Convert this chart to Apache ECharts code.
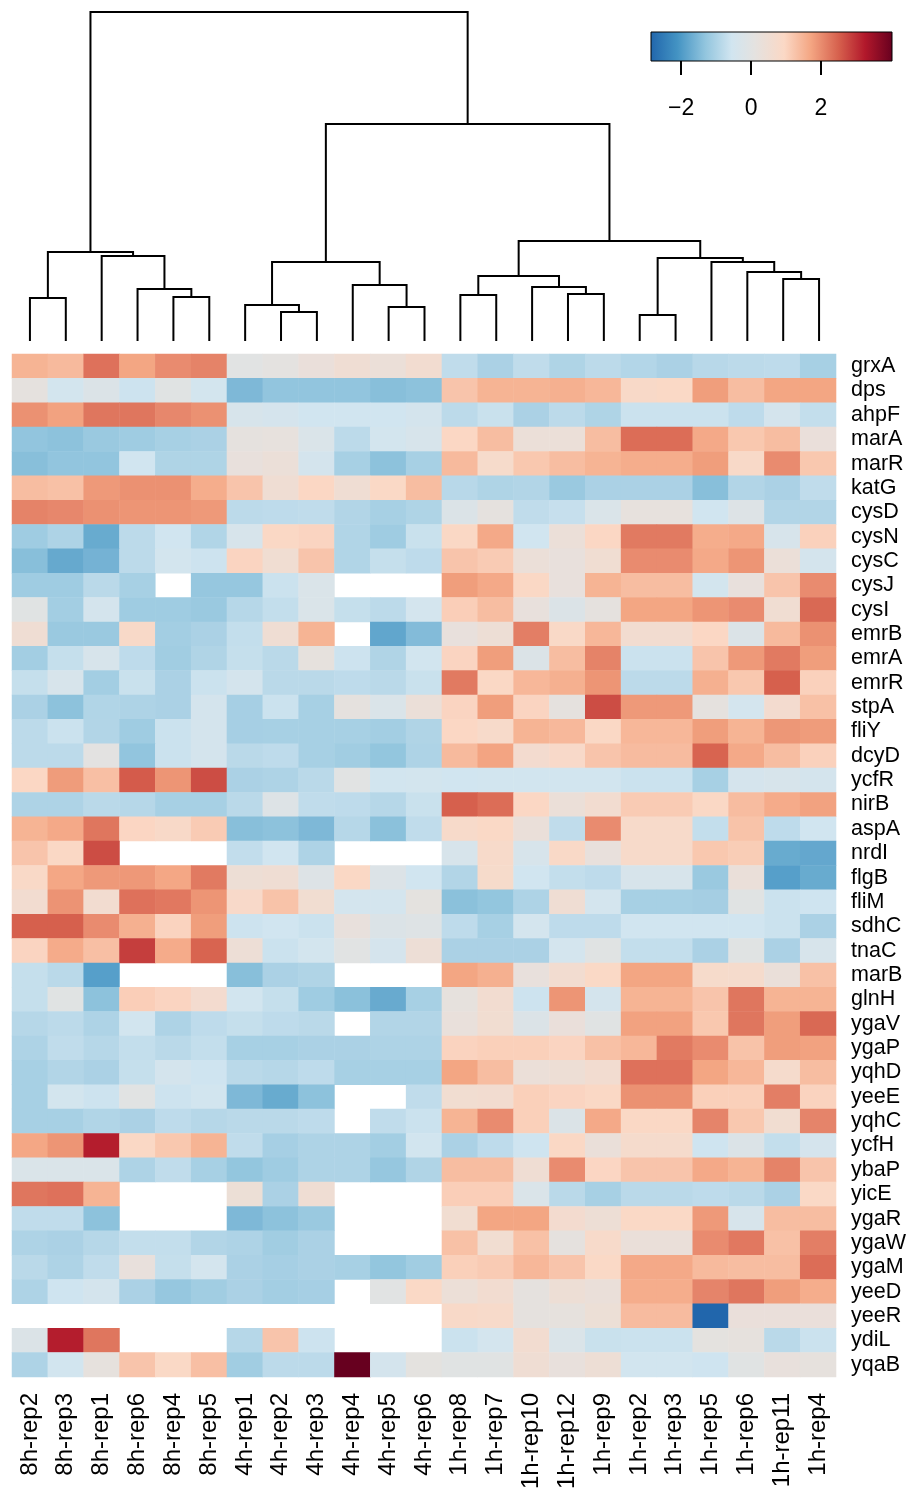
<!DOCTYPE html>
<html>
<head>
<meta charset="utf-8">
<script src="https://cdn.jsdelivr.net/npm/echarts@6/dist/echarts.min.js"></script>
<style>
  html, body { margin: 0; padding: 0; background: #fff; }
  #chart { width: 909px; height: 1492px; }
</style>
</head>
<body>
<div id="chart"></div>
<script>
// ---------------- DATA ----------------
const columns = ['8h-rep2','8h-rep3','8h-rep1','8h-rep6','8h-rep4','8h-rep5',
  '4h-rep1','4h-rep2','4h-rep3','4h-rep4','4h-rep5','4h-rep6',
  '1h-rep8','1h-rep7','1h-rep10','1h-rep12','1h-rep9','1h-rep2','1h-rep3','1h-rep5','1h-rep6','1h-rep11','1h-rep4'];

const genes = ['grxA','dps','ahpF','marA','marR','katG','cysD','cysN','cysC','cysJ','cysI','emrB','emrA','emrR',
  'stpA','fliY','dcyD','ycfR','nirB','aspA','nrdI','flgB','fliM','sdhC','tnaC','marB','glnH','ygaV','ygaP','yqhD',
  'yeeE','yqhC','ycfH','ybaP','yicE','ygaR','ygaW','ygaM','yeeD','yeeR','ydiL','yqaB'];

// values per gene, in column order (null = missing)
const grxA = [1.5,1.4,2.3,1.7,2.0,2.1, 0.0,0.1,0.3,0.5,0.35,0.6, -0.75,-1.0,-0.75,-0.95,-0.8,-0.9,-1.0,-0.85,-0.8,-0.78,-1.05];
const dps  = [0.15,-0.5,-0.2,-0.6,-0.05,-0.5, -1.5,-1.3,-1.3,-1.3,-1.4,-1.35, 1.25,1.5,1.5,1.55,1.45,0.85,0.9,1.8,1.35,1.7,1.7];
const ahpF = [1.95,1.75,2.25,2.25,2.05,1.95, -0.35,-0.4,-0.55,-0.55,-0.55,-0.45, -0.8,-0.65,-1.0,-0.8,-0.95,-0.62,-0.62,-0.62,-0.78,-0.45,-0.72];
const marA = [-1.3,-1.35,-1.2,-1.15,-1.05,-1.0, 0.15,0.2,-0.25,-0.8,-0.5,-0.35, 0.95,1.35,0.35,0.35,1.35,2.35,2.35,1.65,1.2,1.35,0.3];
const marR = [-1.4,-1.3,-1.3,-0.55,-0.95,-0.95, 0.25,0.35,-0.45,-1.05,-1.35,-1.05, 1.4,0.75,1.2,1.35,1.5,1.6,1.6,1.8,0.85,2.0,1.2];
const katG = [1.35,1.3,1.85,1.95,1.95,1.6, 1.25,0.5,0.95,0.5,0.9,1.35, -0.85,-0.95,-0.92,-1.2,-1.0,-1.0,-1.0,-1.4,-0.92,-1.0,-0.75];
const cysD = [2.1,2.05,1.95,1.9,1.9,1.85, -0.8,-0.78,-0.75,-0.92,-1.05,-0.95, -0.2,0.15,-0.75,-0.68,-0.25,0.2,0.2,-0.55,-0.15,-0.92,-0.92];
const cysN = [-1.15,-0.97,-1.72,-0.8,-0.55,-0.93, -0.35,0.92,1.0,-0.93,-1.15,-0.65, 0.92,1.65,-0.55,0.35,0.95,2.2,2.2,1.6,1.65,-0.35,1.05];
const cysC = [-1.4,-1.75,-1.6,-0.8,-0.5,-0.6, 1.0,0.55,1.25,-0.93,-0.7,-0.78, 1.25,1.15,0.35,0.25,0.55,2.0,2.0,1.65,1.9,0.35,-0.45];
const cysJ = [-1.15,-1.15,-0.82,-1.05,null,-1.25, -1.25,-0.62,-0.25,null,null,null, 1.8,1.65,0.92,0.25,1.5,1.35,1.35,-0.5,0.25,1.25,2.0];
const cysI = [-0.05,-1.1,-0.45,-1.15,-1.15,-1.2, -0.87,-0.72,-0.25,-0.7,-0.8,-0.47, 1.1,1.35,0.25,-0.2,0.15,1.7,1.7,1.9,2.0,0.55,2.4];
const emrB = [0.5,-1.2,-1.2,0.85,-1.1,-1.0, -0.72,0.5,1.5,null,-1.8,-1.45, 0.25,0.45,2.15,0.88,1.45,0.6,0.6,0.95,-0.2,1.4,1.95];
const emrA = [-1.1,-0.7,-0.35,-0.77,-1.12,-0.94, -0.7,-0.82,0.18,-0.6,-0.94,-0.52, 1.0,1.8,-0.2,1.35,2.1,-0.62,-0.62,1.25,1.85,2.2,1.8];
const emrR = [-0.7,-0.35,-1.1,-0.65,-1.0,-0.62, -0.45,-0.82,-0.82,-0.77,-0.82,-0.65, 2.2,0.93,1.45,1.55,1.9,-0.8,-0.8,1.55,1.2,2.5,1.05];
const stpA = [-1.0,-1.35,-0.93,-0.96,-1.0,-0.45, -1.07,-0.62,-1.05,0.15,-0.25,0.35, 1.0,1.8,1.0,0.15,2.7,1.85,1.85,0.15,-0.47,0.65,1.3];
const fliY = [-0.8,-0.62,-0.92,-1.15,-0.62,-0.45, -1.07,-1.05,-1.05,-1.05,-1.1,-0.94, 0.95,0.8,1.5,1.42,0.92,1.45,1.45,1.8,1.5,1.88,1.82];
const dcyD = [-0.8,-0.8,0.05,-1.3,-0.62,-0.45, -0.82,-0.77,-1.05,-1.12,-1.28,-0.96, 1.4,1.72,0.65,0.82,1.25,1.38,1.38,2.45,1.65,1.35,1.05];
const ycfR = [0.95,1.82,1.32,2.55,1.9,2.7, -1.0,-0.96,-0.82,0.0,-0.52,-0.48, -0.55,-0.52,-0.52,-0.52,-0.52,-0.62,-0.62,-1.05,-0.4,-0.35,-0.45];
const nirB = [-0.96,-0.96,-0.82,-0.87,-1.05,-1.05, -0.82,-0.15,-0.75,-0.78,-0.87,-0.65, 2.5,2.35,0.95,0.35,0.62,1.15,1.15,0.93,1.37,1.62,1.75];
const aspA = [1.5,1.65,2.25,0.97,0.85,1.15, -1.4,-1.35,-1.5,-0.87,-1.37,-0.75, 0.8,0.9,0.32,-0.75,2.0,0.8,0.8,-0.72,1.27,-0.77,-0.55];
const nrdI = [1.25,0.92,2.7,null,null,null, -0.73,-0.55,-0.96,null,null,null, -0.35,0.78,-0.35,0.88,0.25,0.8,0.8,1.2,1.12,-1.72,-1.77];
const flgB = [0.88,1.68,1.85,1.86,1.68,2.2, 0.45,0.5,-0.15,0.92,-0.18,-0.55, -0.92,0.75,-0.55,-0.72,-0.77,-0.35,-0.35,-1.2,0.32,-1.9,-1.72];
const fliM = [0.62,1.92,0.62,2.3,2.22,1.9, 0.82,1.27,0.58,-0.47,-0.47,0.12, -1.37,-1.28,-0.96,0.5,-0.47,-1.05,-1.05,-1.08,-0.05,-0.62,-0.57];
const sdhC = [2.5,2.5,2.0,1.55,1.02,1.8, -0.6,-0.55,-0.62,0.25,-0.2,-0.12, -0.77,-1.05,-0.47,-0.78,-0.78,-0.55,-0.55,-0.55,-0.55,-0.62,-1.0];
const tnaC = [1.0,1.62,1.32,2.85,1.62,2.45, 0.42,-0.62,-0.48,0.0,-0.43,0.42, -1.0,-1.0,-1.0,-0.47,-0.05,-0.72,-0.72,-1.0,-0.05,-1.0,-0.35];
const marB = [-0.7,-0.82,-1.9,null,null,null, -1.4,-1.0,-0.94,null,null,null, 1.7,1.55,0.25,0.6,0.9,1.7,1.7,0.75,0.72,0.32,1.3];
const glnH = [-0.7,-0.05,-1.35,1.1,1.0,0.65, -0.52,-0.7,-1.15,-1.37,-1.73,-1.05, 0.18,0.6,-0.6,1.9,-0.45,1.5,1.5,1.25,2.25,1.5,1.5];
const ygaV = [-0.87,-0.8,-0.96,-0.52,-0.96,-0.77, -0.7,-0.77,-0.82,null,-0.92,-0.92, 0.28,0.58,-0.2,0.3,-0.05,1.75,1.75,1.2,2.25,1.8,2.4];
const ygaP = [-0.96,-0.75,-0.87,-0.72,-0.82,-0.72, -1.05,-1.05,-1.0,-1.0,-0.96,-0.96, 1.02,1.08,1.08,1.0,1.3,1.45,2.2,2.0,1.27,1.8,1.75];
const yqhD = [-1.05,-0.92,-1.0,-0.7,-0.45,-0.57, -0.82,-0.87,-0.77,-1.05,-1.05,-1.05, 1.7,1.35,0.35,0.45,0.62,2.3,2.3,1.7,1.45,0.72,1.35];
const yeeE = [-1.05,-0.48,-0.6,0.0,-0.6,-0.52, -1.5,-1.72,-1.35,null,null,-0.75, 0.58,0.62,1.08,1.0,0.92,1.95,1.95,1.08,1.08,2.15,1.02];
const yqhC = [-1.05,-1.05,-0.93,-1.0,-0.77,-0.87, -0.82,-0.82,-0.77,null,-0.75,-0.62, 1.5,2.0,1.08,-0.2,1.65,0.92,0.92,2.08,1.2,0.58,2.08];
const ycfH = [1.68,1.9,3.2,0.93,1.2,1.5, -0.75,-1.07,-0.96,-0.96,-1.1,-0.52, -1.0,-0.77,-0.57,0.92,0.32,0.72,0.72,-0.57,-0.2,-0.72,-0.42];
const ybaP = [-0.25,-0.25,-0.25,-0.96,-0.75,-1.05, -1.28,-1.15,-0.96,-0.96,-1.25,-0.94, 1.35,1.35,0.5,2.0,0.97,1.25,1.25,1.65,1.5,2.1,1.25];
const yicE = [2.25,2.3,1.5,null,null,null, 0.4,-1.0,0.5,null,null,null, 1.1,1.1,-0.25,-0.82,-1.05,-0.82,-0.82,-0.77,-0.82,-1.0,0.9];
const ygaR = [-0.75,-0.75,-1.35,null,null,null, -1.5,-1.35,-1.2,null,null,null, 0.58,1.7,1.7,0.65,0.45,0.9,0.9,1.85,-0.35,1.35,1.35];
const ygaW = [-0.96,-1.0,-0.87,-0.72,-0.72,-0.92, -0.96,-1.12,-1.0,null,null,null, 1.3,0.58,1.3,0.15,0.8,0.32,0.32,2.0,2.22,1.3,2.15];
const ygaM = [-0.82,-0.96,-0.75,0.25,-0.7,-0.47, -1.0,-1.07,-1.0,-1.05,-1.28,-1.12, 1.08,1.15,1.45,1.25,0.9,1.65,1.65,1.4,1.35,1.35,2.35];
const yeeD = [-0.96,-0.57,-0.45,-1.0,-1.25,-1.12, -1.0,-1.1,-1.07,null,0.0,0.9, 0.38,0.62,0.15,0.45,0.32,1.6,1.6,2.08,2.25,1.8,1.6];
const yeeR = [null,null,null,null,null,null, null,null,null,null,null,null, 0.85,0.8,0.15,0.18,0.4,1.38,1.38,-2.86,0.3,0.3,0.3];
const ydiL = [-0.2,3.2,2.25,null,null,null, -0.87,1.25,-0.6,null,null,null, -0.62,-0.47,0.62,-0.25,-0.65,-0.62,-0.62,0.12,0.18,-0.82,-0.62];
const yqaB = [-0.96,-0.52,0.18,1.25,0.9,1.32, -1.12,-0.8,-0.8,4.03,-0.45,0.12, -0.05,-0.05,0.5,0.25,0.45,-0.52,-0.52,-0.57,-0.05,0.25,0.18];

const rowValues = [grxA,dps,ahpF,marA,marR,katG,cysD,cysN,cysC,cysJ,cysI,emrB,emrA,emrR,stpA,fliY,dcyD,ycfR,nirB,
  aspA,nrdI,flgB,fliM,sdhC,tnaC,marB,glnH,ygaV,ygaP,yqhD,yeeE,yqhC,ycfH,ybaP,yicE,ygaR,ygaW,ygaM,yeeD,yeeR,ydiL,yqaB];

// column dendrogram (hclust-style merges: negative = leaf -(index+1), non-negative = earlier merge)
const mergeA = [-1,-5,-4,-3,0,-8,-7,-11,-10,6,-13,-16,-15,10,-18,-22,-21,-20,14,13,9,4];
const mergeB = [-2,-6,1,2,3,-9,5,-12,7,8,-14,-17,11,12,-19,-23,15,16,17,18,19,20];
const mergeHeight = [4.3,4.4,5.2,8.5,8.9,2.9,3.6,3.4,5.6,7.9,4.6,4.7,5.4,6.5,2.6,6.2,6.9,7.9,8.3,10.0,21.7,32.9];

// colour key range and ticks
const keyMin = -2.86, keyMax = 4.03;
const keyTicks = [-2, 0, 2];

// ---------------- STYLE ----------------
const colorStops = [
  [-2.86, '#2166ac'], [-2.1, '#4393c3'], [-1.3, '#92c5de'], [-0.55, '#d1e5f0'],
  [0.1, '#e4e2e0'], [0.95, '#fbd8c5'], [1.7, '#f4a683'], [2.5, '#d6604d'],
  [3.25, '#b2182b'], [4.03, '#67001f']
];
function hexToRgb(h){ return [parseInt(h.substr(1,2),16),parseInt(h.substr(3,2),16),parseInt(h.substr(5,2),16)]; }
function colorAt(v){
  if (v <= colorStops[0][0]) return colorStops[0][1];
  for (let i = 1; i < colorStops.length; i++) {
    if (v <= colorStops[i][0]) {
      const a = colorStops[i-1], b = colorStops[i];
      const t = (v - a[0]) / (b[0] - a[0]);
      const ca = hexToRgb(a[1]), cb = hexToRgb(b[1]);
      const c = ca.map((x, k) => Math.round(x + (cb[k] - x) * t));
      return 'rgb(' + c.join(',') + ')';
    }
  }
  return colorStops[colorStops.length-1][1];
}
const NCOL = 120;
const rampColors = [];
for (let i = 0; i < NCOL; i++) rampColors.push(colorAt(keyMin + (keyMax - keyMin) * i / (NCOL - 1)));
const gradStops = colorStops.map(s => ({ offset: (s[0] - keyMin) / (keyMax - keyMin), color: s[1] }));

// ---------------- BUILD ----------------
const heatData = [];
rowValues.forEach((row, r) => row.forEach((v, c) => {
  heatData.push([c, r, v === null ? '-' : v]);
}));

// dendrogram segments
const nodeX = [], nodeH = [];
function childPos(k){ return k < 0 ? [-k - 1, 0] : [nodeX[k], nodeH[k]]; }
const dendroData = [];
for (let i = 0; i < mergeA.length; i++) {
  const a = childPos(mergeA[i]), b = childPos(mergeB[i]);
  nodeX[i] = (a[0] + b[0]) / 2;
  nodeH[i] = mergeHeight[i];
  dendroData.push([a[0], b[0], a[1], b[1], mergeHeight[i]]);
}

const FONT = 'Liberation Sans, Arial, Helvetica, sans-serif';
const chart = echarts.init(document.getElementById('chart'), null, { renderer: 'canvas' });

chart.setOption({
  animation: false,
  backgroundColor: '#ffffff',
  textStyle: { fontFamily: FONT },
  grid: [
    { left: 12, top: 354, width: 825, height: 1023 },
    { left: 12, top: 12, width: 825, height: 329 },
    { left: 651, top: 32, width: 241, height: 29 }
  ],
  xAxis: [
    { type: 'category', gridIndex: 0, data: columns, position: 'bottom',
      axisLine: { show: false }, axisTick: { show: false }, splitLine: { show: false },
      axisLabel: { rotate: 90, fontSize: 24, color: '#000', margin: 16, fontFamily: FONT, interval: 0 } },
    { type: 'value', gridIndex: 1, min: -0.5, max: columns.length - 0.5, show: false },
    { type: 'value', gridIndex: 2, min: keyMin, max: keyMax, position: 'bottom',
      axisLine: { show: false }, splitLine: { show: false },
      axisTick: { show: true, customValues: keyTicks, length: 14, lineStyle: { color: '#000', width: 2 } },
      axisLabel: { show: true, customValues: keyTicks, fontSize: 23, color: '#000', margin: 36, fontFamily: FONT,
        formatter: v => (v < 0 ? '\u2212' + Math.abs(v) : String(v)) } }
  ],
  yAxis: [
    { type: 'category', gridIndex: 0, data: genes, inverse: true, position: 'right',
      axisLine: { show: false }, axisTick: { show: false }, splitLine: { show: false },
      axisLabel: { fontSize: 21.5, color: '#000', margin: 15, fontFamily: FONT, interval: 0 } },
    { type: 'value', gridIndex: 1, min: 0, max: mergeHeight[mergeHeight.length - 1], show: false },
    { type: 'value', gridIndex: 2, min: 0, max: 1, show: false }
  ],
  visualMap: {
    show: false, type: 'continuous', seriesIndex: 0, dimension: 2,
    min: keyMin, max: keyMax, inRange: { color: rampColors }
  },
  series: [
    { type: 'heatmap', xAxisIndex: 0, yAxisIndex: 0, data: heatData,
      itemStyle: { borderWidth: 0 }, emphasis: { disabled: true }, progressive: 0 },
    { type: 'custom', xAxisIndex: 1, yAxisIndex: 1, data: dendroData,
      encode: { x: [0, 1], y: [2, 3, 4] }, silent: true,
      renderItem: function (params, api) {
        const xl = api.value(0), xr = api.value(1), hl = api.value(2), hr = api.value(3), h = api.value(4);
        return { type: 'polyline',
          shape: { points: [api.coord([xl, hl]), api.coord([xl, h]), api.coord([xr, h]), api.coord([xr, hr])] },
          style: { stroke: '#000', lineWidth: 2, fill: null, lineJoin: 'miter' } };
      } },
    { type: 'custom', xAxisIndex: 2, yAxisIndex: 2, data: [[keyMin, keyMax]],
      encode: { x: [0, 1] }, silent: true,
      renderItem: function (params, api) {
        const p0 = api.coord([api.value(0), 1]), p1 = api.coord([api.value(1), 0]);
        return { type: 'rect',
          shape: { x: p0[0], y: p0[1], width: p1[0] - p0[0], height: p1[1] - p0[1] },
          style: { fill: new echarts.graphic.LinearGradient(0, 0, 1, 0, gradStops), stroke: '#000', lineWidth: 1 } };
      } }
  ]
});
</script>
</body>
</html>
